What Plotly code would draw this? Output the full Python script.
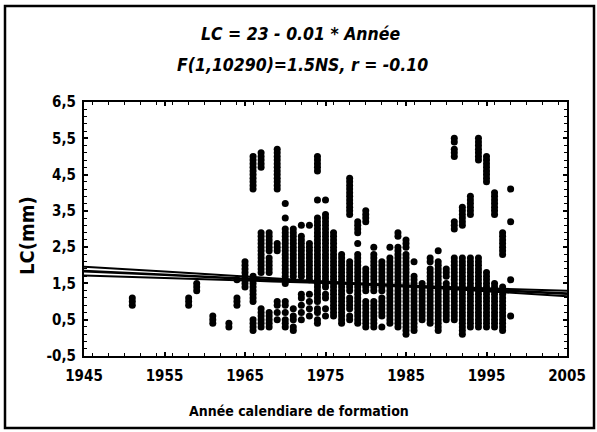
import plotly.graph_objects as go

# ---------------- data ----------------
years = [1951, 1958, 1959, 1961, 1963, 1964, 1965, 1966, 1967, 1968, 1969, 1970,
         1971, 1972, 1973, 1974, 1975, 1976, 1977, 1978, 1979, 1980, 1981, 1982,
         1983, 1984, 1985, 1986, 1987, 1988, 1989, 1990, 1991, 1992, 1993, 1994,
         1995, 1996, 1997, 1998]

lc_columns = [
    [0.9, 1.0, 1.1],                                             # 1951
    [0.9, 1.0, 1.1],                                             # 1958
    [1.3, 1.4, 1.5],                                             # 1959
    [0.4, 0.5, 0.6],                                             # 1961
    [0.3, 0.4],                                                  # 1963
    [0.9, 1.0, 1.1, 1.6],                                        # 1964
    [1.4, 1.5, 1.6, 1.7, 1.8, 1.9, 2.0, 2.1],                    # 1965
    [0.2, 0.3, 0.4, 0.5, 1.0, 1.1, 1.2, 1.3, 1.4, 1.5, 1.6, 1.7,
     4.1, 4.2, 4.3, 4.4, 4.5, 4.6, 4.7, 4.8, 4.9, 5.0],           # 1966
    [0.3, 0.4, 0.5, 0.6, 0.7, 0.8, 1.8, 1.9, 2.0, 2.1, 2.2, 2.3,
     2.4, 2.5, 2.6, 2.7, 2.8, 2.9, 4.7, 4.8, 4.9, 5.0, 5.1],      # 1967
    [0.3, 0.4, 0.5, 0.6, 0.7, 1.8, 1.9, 2.0, 2.1, 2.2, 2.4, 2.5,
     2.6, 2.7, 2.8, 2.9],                                        # 1968
    [0.5, 0.7, 0.9, 1.0, 2.4, 2.5, 2.6, 4.1, 4.2, 4.3, 4.4, 4.5,
     4.6, 4.7, 4.8, 4.9, 5.0, 5.1, 5.2],                         # 1969
    [0.3, 0.4, 0.5, 0.7, 0.9, 1.0, 1.5, 1.6, 1.7, 1.8, 1.9, 2.0,
     2.1, 2.2, 2.3, 2.4, 2.5, 2.6, 2.7, 2.8, 2.9, 3.0, 3.3, 3.7], # 1970
    [0.2, 0.3, 0.5, 0.6, 0.8, 1.7, 1.8, 1.9, 2.0, 2.1, 2.2, 2.3,
     2.4, 2.5, 2.6, 2.7, 2.8, 2.9, 3.0],                         # 1971
    [0.5, 0.7, 0.9, 1.1, 1.2, 1.7, 1.8, 1.9, 2.0, 2.1, 2.2, 2.3,
     2.4, 2.5, 2.6, 2.7, 2.8, 3.1],                              # 1972
    [0.6, 0.8, 1.0, 1.2, 1.6, 1.7, 1.8, 1.9, 2.0, 2.1, 2.2, 2.3,
     2.4, 2.5, 2.6, 3.1],                                        # 1973
    [0.4, 0.5, 0.7, 0.8, 1.0, 1.1, 1.2, 1.3, 1.4, 1.5, 1.6, 1.7,
     1.8, 1.9, 2.0, 2.1, 2.2, 2.3, 2.4, 2.5, 2.6, 2.7, 2.8, 2.9,
     3.0, 3.1, 3.2, 3.3, 3.8, 4.6, 4.7, 4.8, 4.9, 5.0],           # 1974
    [0.6, 0.8, 1.1, 1.2, 1.4, 1.5, 1.6, 1.7, 1.8, 1.9, 2.0, 2.1,
     2.2, 2.3, 2.4, 2.5, 2.6, 2.7, 2.8, 2.9, 3.0, 3.1, 3.2, 3.3,
     3.4, 3.8],                                                  # 1975
    [0.6, 0.7, 0.8, 0.9, 1.0, 1.1, 1.2, 1.3, 1.4, 1.5, 1.6, 1.7,
     1.8, 1.9, 2.0, 2.1, 2.2, 2.3, 2.4, 2.5, 2.6, 2.7, 2.8, 2.9], # 1976
    [0.4, 0.5, 0.6, 0.7, 0.8, 0.9, 1.0, 1.1, 1.2, 1.3, 1.4, 1.5,
     1.6, 1.7, 1.8, 1.9, 2.0, 2.1, 2.2, 2.3],                    # 1977
    [0.5, 0.6, 0.8, 0.9, 1.0, 1.1, 1.3, 1.4, 1.5, 1.6, 1.7, 1.8,
     1.9, 2.0, 2.1, 3.4, 3.5, 3.6, 3.7, 3.8, 3.9, 4.0, 4.1, 4.2,
     4.3, 4.4],                                                  # 1978
    [0.4, 0.5, 0.6, 0.7, 0.8, 0.9, 1.0, 1.1, 1.2, 1.3, 1.4, 1.5,
     1.6, 1.7, 1.8, 1.9, 2.0, 2.1, 2.2, 2.3, 2.6, 2.9, 3.0, 3.1,
     3.2],                                                       # 1979
    [0.3, 0.4, 0.5, 0.6, 0.7, 0.8, 0.9, 1.0, 1.3, 1.4, 1.5, 1.6,
     1.7, 1.8, 1.9, 3.2, 3.3, 3.4, 3.5],                         # 1980
    [0.3, 0.4, 0.5, 0.6, 0.7, 0.8, 0.9, 1.0, 1.3, 1.4, 1.5, 1.6,
     1.7, 1.8, 1.9, 2.0, 2.1, 2.2, 2.3, 2.5],                    # 1981
    [0.3, 0.6, 0.7, 0.8, 0.9, 1.0, 1.1, 1.3, 1.4, 1.5, 1.6, 1.7,
     1.8, 1.9, 2.0, 2.1],                                        # 1982
    [0.4, 0.5, 0.6, 0.7, 0.8, 0.9, 1.0, 1.1, 1.2, 1.3, 1.4, 1.5,
     1.6, 1.7, 1.8, 1.9, 2.0, 2.1, 2.2, 2.5],                    # 1983
    [0.3, 0.4, 0.5, 0.6, 0.7, 0.8, 0.9, 1.0, 1.1, 1.2, 1.3, 1.4,
     1.5, 1.6, 1.7, 1.8, 1.9, 2.0, 2.1, 2.2, 2.3, 2.4, 2.5, 2.8,
     2.9],                                                       # 1984
    [0.1, 0.2, 0.3, 0.4, 0.5, 0.6, 0.7, 0.8, 0.9, 1.0, 1.1, 1.2,
     1.3, 1.4, 1.5, 1.6, 1.7, 1.8, 1.9, 2.0, 2.1, 2.2, 2.3, 2.5,
     2.6, 2.7],                                                  # 1985
    [0.2, 0.3, 0.4, 0.5, 0.6, 0.7, 0.8, 0.9, 1.0, 1.1, 1.2, 1.3,
     1.4, 1.5, 1.6, 1.7, 2.1],                                   # 1986
    [0.5, 0.6, 0.7, 0.8, 0.9, 1.0, 1.1, 1.2, 1.3, 1.4, 1.5],     # 1987
    [0.4, 0.5, 0.6, 0.7, 0.8, 0.9, 1.0, 1.1, 1.2, 1.3, 1.4, 1.5,
     1.6, 1.7, 1.8, 1.9, 2.1, 2.2],                              # 1988
    [0.2, 0.3, 0.4, 0.5, 0.6, 0.7, 0.8, 0.9, 1.0, 1.1, 1.2, 1.3,
     1.4, 1.5, 1.6, 1.7, 1.8, 1.9, 2.0, 2.1, 2.4],               # 1989
    [0.5, 0.6, 0.7, 0.8, 0.9, 1.0, 1.1, 1.2, 1.3, 1.4, 1.5, 1.7,
     1.8, 1.9],                                                  # 1990
    [0.5, 0.6, 0.7, 0.8, 0.9, 1.0, 1.1, 1.2, 1.3, 1.4, 1.5, 1.6,
     1.7, 1.8, 1.9, 2.0, 2.1, 2.2, 3.0, 3.1, 3.2, 5.0, 5.1, 5.2,
     5.4, 5.5],                                                  # 1991
    [0.1, 0.2, 0.3, 0.4, 0.5, 0.6, 0.7, 0.8, 0.9, 1.0, 1.1, 1.2,
     1.3, 1.4, 1.5, 1.6, 1.7, 1.8, 1.9, 2.0, 2.1, 2.2, 3.1, 3.2,
     3.3, 3.4, 3.5, 3.6],                                        # 1992
    [0.3, 0.4, 0.5, 0.6, 0.7, 0.8, 0.9, 1.0, 1.1, 1.2, 1.3, 1.4,
     1.5, 1.6, 1.7, 1.8, 1.9, 2.0, 2.1, 2.2, 3.4, 3.5, 3.6, 3.7,
     3.8, 3.9],                                                  # 1993
    [0.3, 0.4, 0.5, 0.6, 0.7, 0.8, 0.9, 1.0, 1.1, 1.2, 1.3, 1.4,
     1.5, 1.6, 1.7, 1.8, 1.9, 2.0, 2.1, 2.2, 4.9, 5.0, 5.1, 5.2,
     5.3, 5.4, 5.5],                                             # 1994
    [0.3, 0.4, 0.5, 0.6, 0.7, 0.8, 0.9, 1.0, 1.1, 1.2, 1.3, 1.4,
     1.5, 1.6, 1.7, 1.8, 4.3, 4.4, 4.5, 4.6, 4.7, 4.8, 4.9, 5.0], # 1995
    [0.3, 0.4, 0.5, 0.6, 0.7, 0.8, 0.9, 1.0, 1.1, 1.2, 1.3, 1.4,
     1.5, 3.4, 3.5, 3.6, 3.7, 3.8, 3.9, 4.0],                    # 1996
    [0.2, 0.3, 0.4, 0.5, 0.6, 0.7, 0.8, 0.9, 1.0, 1.1, 1.2, 1.3,
     1.4, 2.3, 2.4, 2.5, 2.6, 2.7, 2.8, 2.9],                    # 1997
    [0.6, 1.6, 3.2, 4.1],                                        # 1998
]

# regression line and its confidence band
fit_x = [1945, 1955, 1965, 1975, 1982, 1990, 2005]
fit_y = [1.84, 1.74, 1.63, 1.53, 1.46, 1.38, 1.22]
band_upper = [1.96, 1.83, 1.69, 1.55, 1.47, 1.40, 1.30]
band_lower = [1.72, 1.65, 1.58, 1.51, 1.45, 1.35, 1.15]

x_ticks = [1945, 1955, 1965, 1975, 1985, 1995, 2005]
x_tick_labels = ["1945", "1955", "1965", "1975", "1985", "1995", "2005"]
y_ticks = [-0.5, 0.5, 1.5, 2.5, 3.5, 4.5, 5.5, 6.5]
y_tick_labels = ["-0,5", "0,5", "1,5", "2,5", "3,5", "4,5", "5,5", "6,5"]

title_line1 = "LC = 23 - 0.01 * Année"
title_line2 = "F(1,10290)=1.5NS, r = -0.10"
x_title = "Année calendiare de formation"
y_title = "LC(mm)"

# ---------------- figure ----------------
pts_x, pts_y = [], []
for yr, col in zip(years, lc_columns):
    for v in col:
        pts_x.append(yr)
        pts_y.append(v)

FONT = "DejaVu Sans Condensed, Liberation Sans Narrow, Arial Narrow, Liberation Sans, Arial, sans-serif"

fig = go.Figure()
fig.add_trace(go.Scatter(x=pts_x, y=pts_y, mode="markers",
                         marker=dict(color="black", size=7, line=dict(width=0)),
                         showlegend=False, hoverinfo="skip"))
for ys, w in [(band_upper, 2), (band_lower, 2), (fit_y, 2.6)]:
    fig.add_trace(go.Scatter(x=fit_x, y=ys, mode="lines",
                             line=dict(color="black", width=w, shape="spline"),
                             showlegend=False, hoverinfo="skip"))

L, R, T, B = 84, 30, 102, 76
W, H = 597, 432
pw, ph = W - L - R, H - T - B

fig.update_layout(
    width=W, height=H,
    margin=dict(l=L, r=R, t=T, b=B),
    paper_bgcolor="white", plot_bgcolor="white",
    font=dict(family=FONT, color="black"),
    xaxis=dict(range=[1945, 2005], tickvals=x_ticks,
               ticktext=["<b>" + t + "</b>" for t in x_tick_labels],
               showgrid=False, zeroline=False,
               showline=True, linecolor="black", linewidth=2, mirror="allticks",
               ticks="inside", ticklen=4, tickcolor="black", tickwidth=1.5,
               minor=dict(dtick=2, ticks="inside", ticklen=3, tickcolor="black", tickwidth=1),
               tickfont=dict(family=FONT, size=15, color="black"),
               ticklabelstandoff=5),
    yaxis=dict(range=[-0.5, 6.5], tickvals=y_ticks,
               ticktext=["<b>" + t + "</b>" for t in y_tick_labels],
               showgrid=False, zeroline=False,
               showline=True, linecolor="black", linewidth=2, mirror="allticks",
               ticks="inside", ticklen=4, tickcolor="black", tickwidth=1.5,
               minor=dict(tick0=-0.5, dtick=0.2, ticks="inside", ticklen=3,
                          tickcolor="black", tickwidth=1),
               tickfont=dict(family=FONT, size=15, color="black"),
               ticklabelstandoff=3),
)

def px(x):
    return (x - L) / pw

def py(y):
    return (H - B - y) / ph

fig.add_annotation(x=px(300), y=py(34), xref="paper", yref="paper", showarrow=False,
                   text="<b><i>" + title_line1 + "</i></b>",
                   font=dict(family=FONT, size=17.5, color="black"), xanchor="center", yanchor="middle")
fig.add_annotation(x=px(302), y=py(65), xref="paper", yref="paper", showarrow=False,
                   text="<b><i>" + title_line2 + "</i></b>",
                   font=dict(family=FONT, size=17.5, color="black"), xanchor="center", yanchor="middle")
fig.add_annotation(x=px(299), y=py(411), xref="paper", yref="paper", showarrow=False,
                   text="<b>" + x_title + "</b>",
                   font=dict(family=FONT, size=14, color="black"), xanchor="center", yanchor="middle")
fig.add_annotation(x=px(27), y=py(236), xref="paper", yref="paper", showarrow=False,
                   text="<b>" + y_title + "</b>", textangle=-90,
                   font=dict(family=FONT, size=20, color="black"), xanchor="center", yanchor="middle")

fig.add_shape(type="rect", xref="paper", yref="paper",
              x0=px(5), x1=px(594), y0=py(6), y1=py(428),
              line=dict(color="black", width=2.5))

fig.write_html("out.html")
